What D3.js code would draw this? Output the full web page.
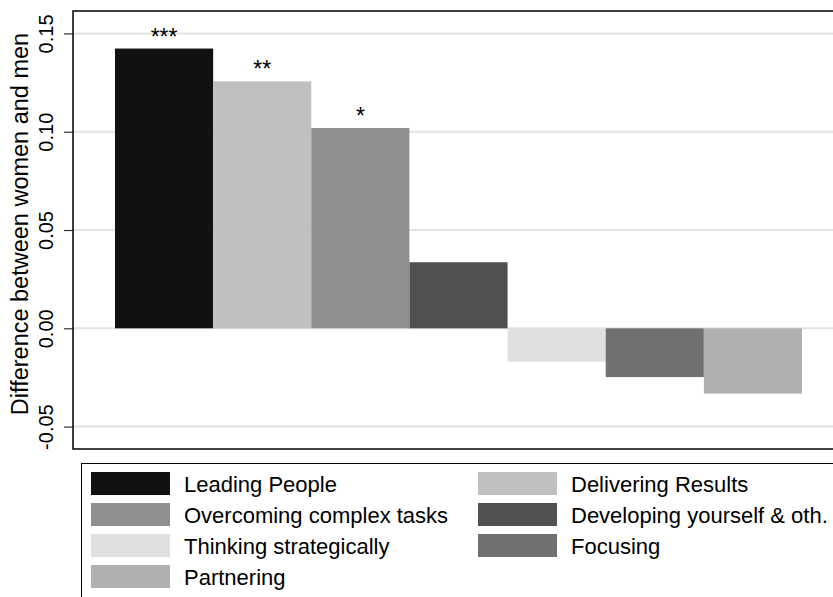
<!DOCTYPE html>
<html>
<head>
<meta charset="utf-8">
<script src="https://cdn.jsdelivr.net/npm/d3@7"></script>
<style>
  body { margin: 0; background: #fff; }
  text { font-family: "Liberation Sans", Arial, sans-serif; fill: #000; }
</style>
</head>
<body>
<div id="chart"></div>
<script>
// data
var categories = ["Leading People", "Delivering Results", "Overcoming complex tasks",
  "Developing yourself & oth.", "Thinking strategically", "Focusing", "Partnering"];
var values = [0.1423, 0.1256, 0.1019, 0.0336, -0.0170, -0.0248, -0.0332];
var stars = ["***", "**", "*", "", "", "", ""];
var colors = ["#111111", "#c0c0c0", "#8f8f8f", "#505050", "#e0e0e0", "#707070", "#b0b0b0"];
var yTicks = [-0.05, 0.00, 0.05, 0.10, 0.15];

var svgWidth = 833;
var svgHeight = 597;

// plot region
var plot = { left: 73, right: 836, top: 11, bottom: 449 };

var svg = d3.select("#chart")
  .append("svg")
  .attr("width", svgWidth)
  .attr("height", svgHeight);

var y = d3.scaleLinear()
  .domain([-0.0614, 0.1614])
  .range([plot.bottom, plot.top]);

var x = d3.scaleBand()
  .domain(categories)
  .range([115, 802])
  .padding(0);

// gridlines
svg.append("g")
  .selectAll("line")
  .data(yTicks)
  .enter()
  .append("line")
  .attr("x1", plot.left)
  .attr("x2", plot.right)
  .attr("y1", d => y(d))
  .attr("y2", d => y(d))
  .attr("stroke", "#e3e3e3")
  .attr("stroke-width", 2);

// bars
svg.append("g")
  .selectAll("rect")
  .data(values)
  .enter()
  .append("rect")
  .attr("x", (d, i) => x(categories[i]))
  .attr("width", x.bandwidth())
  .attr("y", d => y(Math.max(0, d)))
  .attr("height", d => Math.abs(y(d) - y(0)))
  .attr("fill", (d, i) => colors[i]);

// significance stars
svg.append("g")
  .selectAll("text")
  .data(values)
  .enter()
  .append("text")
  .attr("x", (d, i) => x(categories[i]) + x.bandwidth() / 2)
  .attr("y", d => y(d) - 4)
  .attr("text-anchor", "middle")
  .style("font-size", "23px")
  .text((d, i) => stars[i]);

// y axis
var leftAxis = d3.axisLeft(y)
  .tickValues(yTicks)
  .tickFormat(d3.format(".2f"))
  .tickSize(9)
  .tickPadding(0);

var yAxis = svg.append("g")
  .attr("transform", `translate(${plot.left}, 0)`)
  .call(leftAxis);

yAxis.select(".domain").remove();
yAxis.selectAll(".tick line").attr("stroke", "#333").attr("stroke-width", 1.2);
yAxis.selectAll(".tick text")
  .attr("transform", "rotate(-90)")
  .attr("x", 0)
  .attr("y", -20)
  .attr("dy", 0)
  .attr("text-anchor", "middle")
  .style("font-size", "20px")
  .text(d => d3.format(".2f")(d).replace("−", "-"));

// axis title
svg.append("text")
  .attr("transform", `translate(28, ${(plot.top + plot.bottom) / 2 - 6}) rotate(-90)`)
  .attr("text-anchor", "middle")
  .style("font-size", "23.5px")
  .text("Difference between women and men");

// plot frame
svg.append("rect")
  .attr("x", plot.left)
  .attr("y", plot.top)
  .attr("width", plot.right - plot.left)
  .attr("height", plot.bottom - plot.top)
  .attr("fill", "none")
  .attr("stroke", "#000")
  .attr("stroke-width", 1.5);

// legend
var legendBox = { left: 81.5, top: 463.5 };
svg.append("rect")
  .attr("x", legendBox.left)
  .attr("y", legendBox.top)
  .attr("width", 800)
  .attr("height", 200)
  .attr("fill", "none")
  .attr("stroke", "#000")
  .attr("stroke-width", 1);

var legend = svg.append("g");
var items = legend.selectAll("g")
  .data(categories)
  .enter()
  .append("g")
  .attr("transform", (d, i) => `translate(${i % 2 === 0 ? 91 : 478}, ${472 + Math.floor(i / 2) * 31})`);

items.append("rect")
  .attr("width", 79)
  .attr("height", 23)
  .attr("fill", (d, i) => colors[i]);

items.append("text")
  .attr("x", 93)
  .attr("y", 19.5)
  .style("font-size", "22px")
  .text(d => d);
</script>
</body>
</html>
